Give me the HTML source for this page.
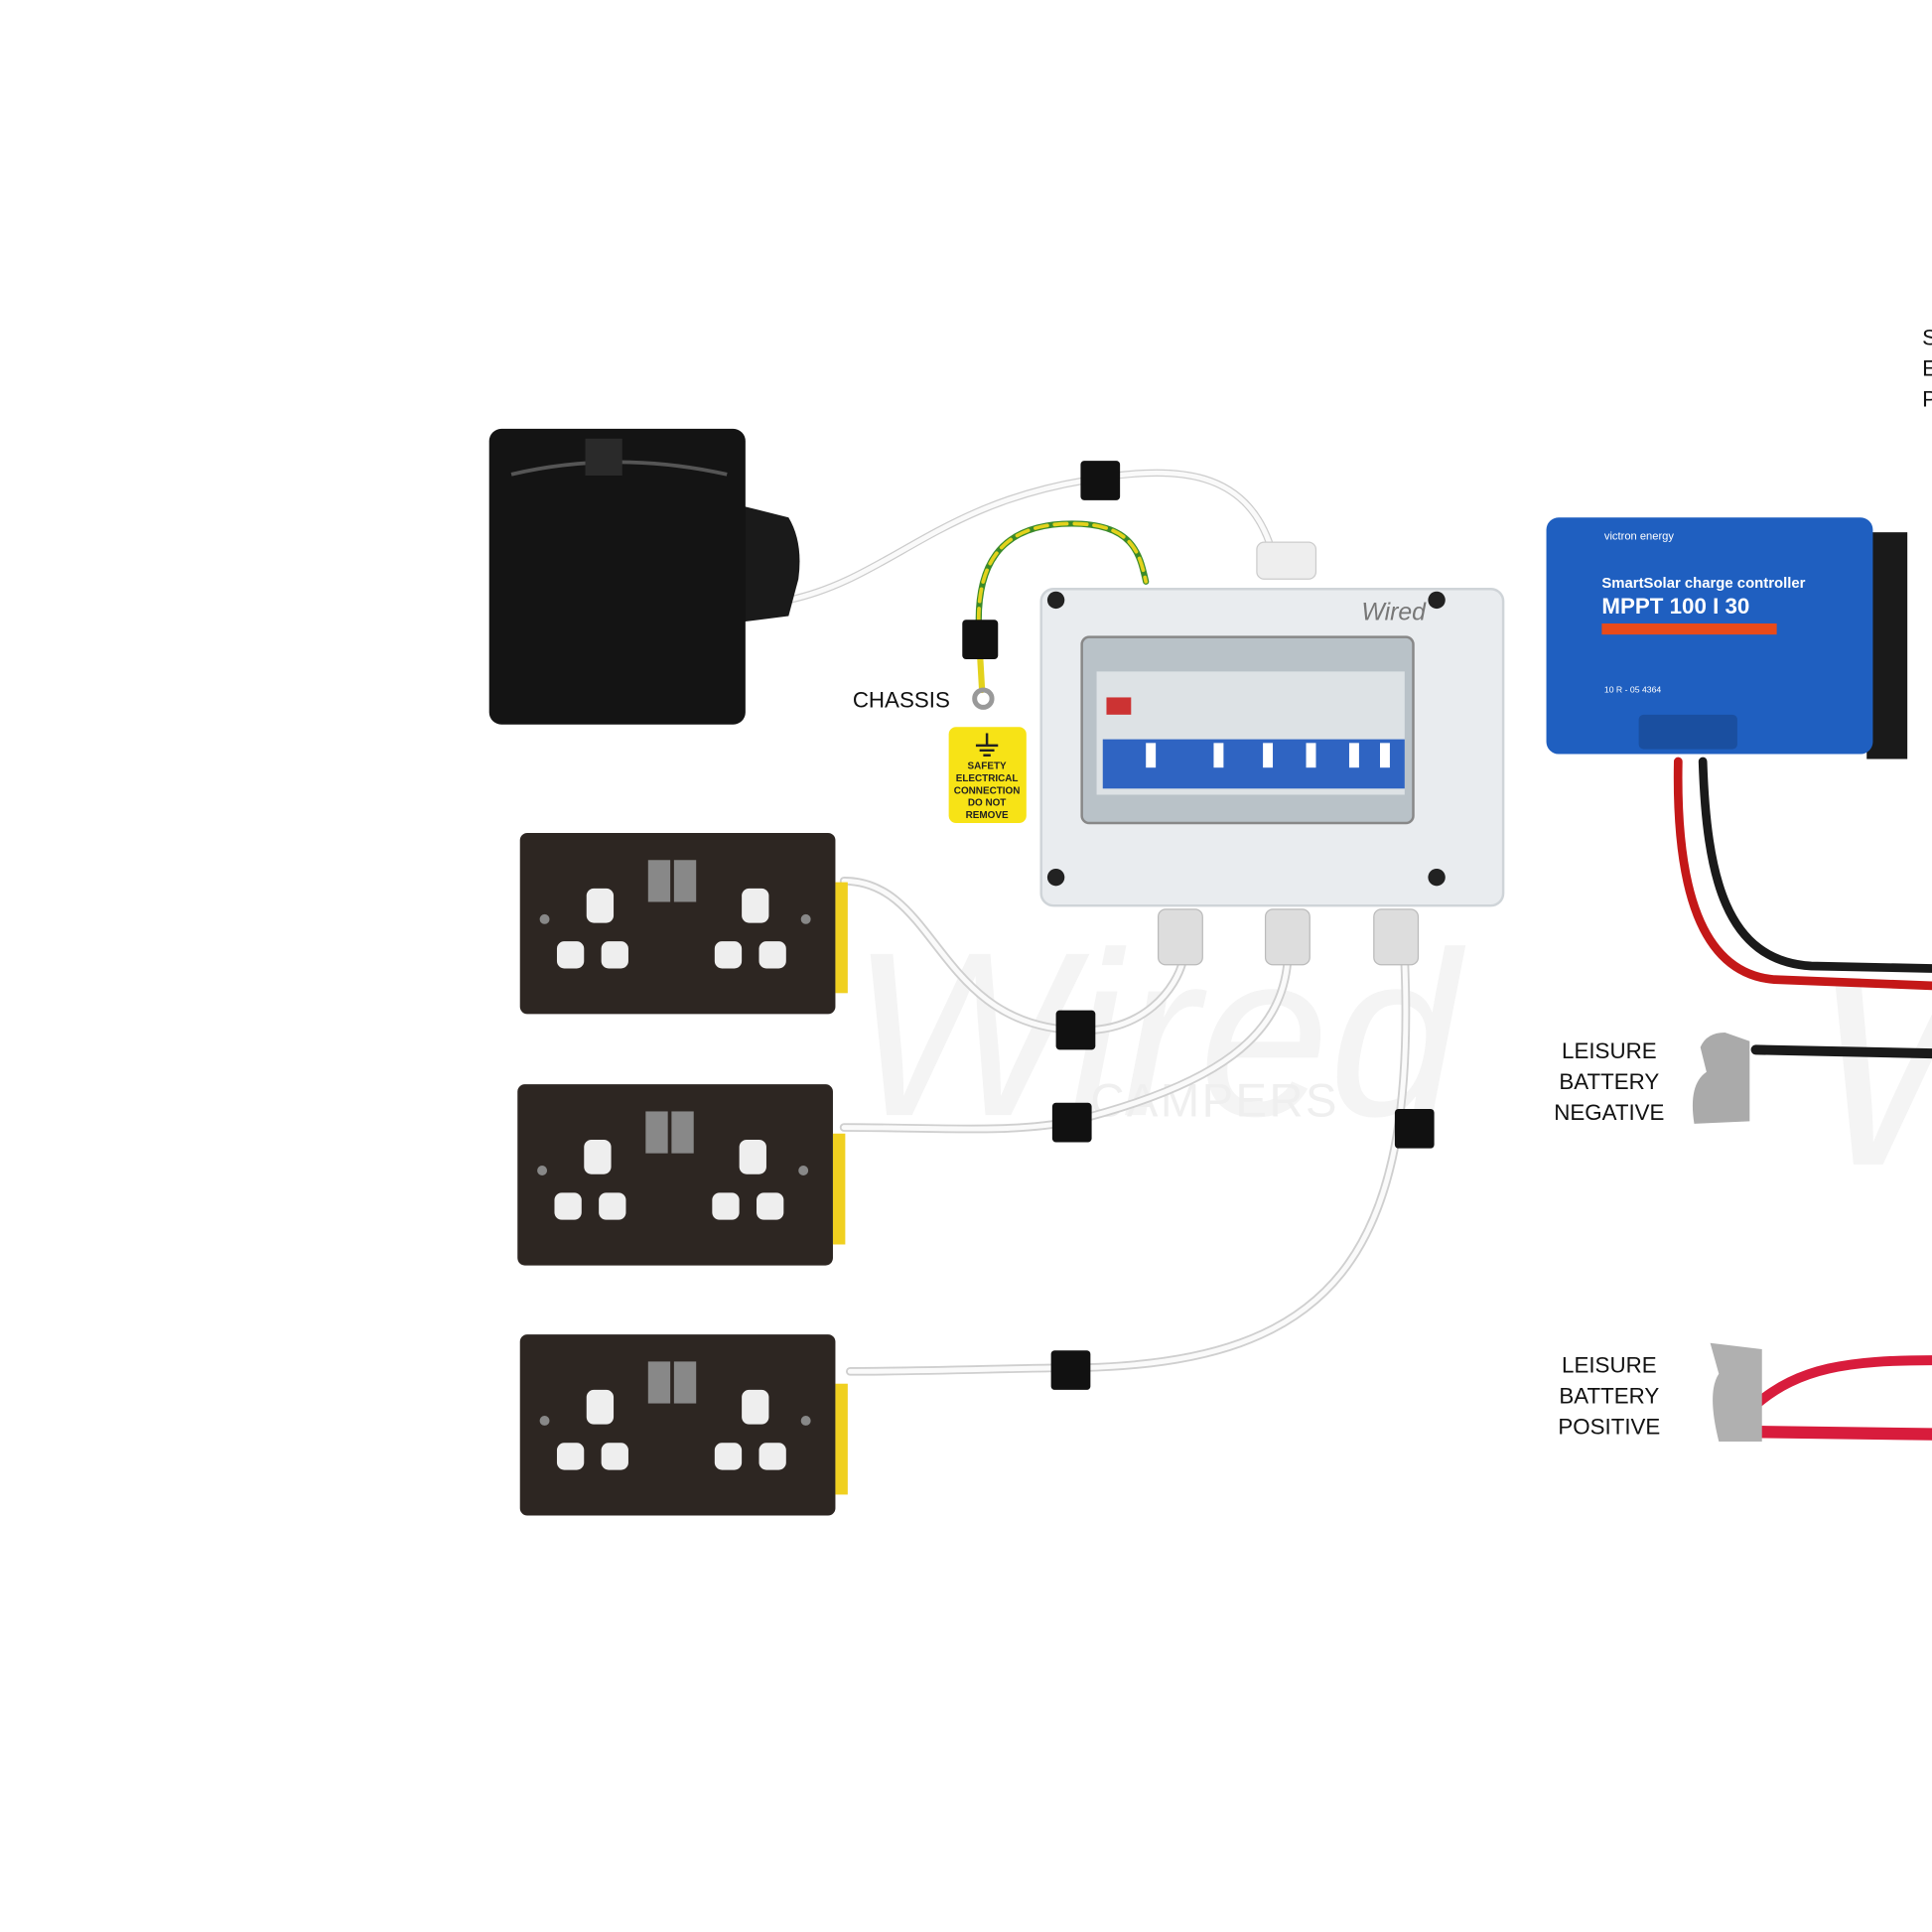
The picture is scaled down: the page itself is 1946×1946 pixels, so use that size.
<!DOCTYPE html>
<html><head><meta charset="utf-8"><style>
html,body{margin:0;padding:0;background:#fff;width:1946px;height:1946px;overflow:hidden}
svg{display:block}
text{font-family:"Liberation Sans",sans-serif}
</style></head><body>
<svg width="1946" height="1946" viewBox="0 0 1568 1568" xmlns="http://www.w3.org/2000/svg">
<defs>
<g id="s">
<rect x="0" y="0" width="256" height="147" rx="6" fill="#2d2622"/>
<rect x="256" y="40" width="10" height="90" fill="#f0d020"/>
<rect x="104" y="22" width="18" height="34" fill="#888"/><rect x="125" y="22" width="18" height="34" fill="#888"/>
<rect x="54" y="45" width="22" height="28" rx="6" fill="#eee"/><rect x="180" y="45" width="22" height="28" rx="6" fill="#eee"/>
<rect x="30" y="88" width="22" height="22" rx="6" fill="#eee"/><rect x="66" y="88" width="22" height="22" rx="6" fill="#eee"/>
<rect x="158" y="88" width="22" height="22" rx="6" fill="#eee"/><rect x="194" y="88" width="22" height="22" rx="6" fill="#eee"/>
<circle cx="20" cy="70" r="4" fill="#888"/><circle cx="232" cy="70" r="4" fill="#888"/>
</g>
</defs>
<rect width="1568" height="1568" fill="#fff"/>
<!-- watermark -->
<text x="690" y="905" font-family="Liberation Serif" font-style="italic" font-size="190" fill="#f4f4f4">Wired</text>
<text x="885" y="906" font-size="38" fill="#efefef" letter-spacing="2">CAMPERS</text>
<text x="1470" y="945" font-family="Liberation Serif" font-style="italic" font-size="220" fill="#f4f4f4">W</text>
<!-- cables -->
<g fill="none" stroke-linecap="round">
<path d="M640 487 C720 470 760 410 880 390 C960 375 1010 385 1030 440" stroke="#ccc" stroke-width="6"/>
<path d="M640 487 C720 470 760 410 880 390 C960 375 1010 385 1030 440" stroke="#fafafa" stroke-width="4"/>
<path d="M795 520 C790 460 810 425 870 425 C920 425 925 450 930 472" stroke="#3a8a2a" stroke-width="5"/>
<path d="M795 520 C790 460 810 425 870 425 C920 425 925 450 930 472" stroke="#e3d21c" stroke-width="3" stroke-dasharray="10 6"/>
<path d="M795 525 L797 560" stroke="#e3d21c" stroke-width="5"/>
<g stroke="#cfcfcf" stroke-width="7">
<path d="M685 715 C760 715 760 830 870 836 C930 840 955 800 960 780"/>
<path d="M685 915 C760 915 820 920 870 910 C990 880 1040 840 1045 780"/>
<path d="M690 1113 C760 1113 830 1110 880 1110 C1080 1105 1150 1020 1140 780"/>
</g>
<g stroke="#fafafa" stroke-width="4">
<path d="M685 715 C760 715 760 830 870 836 C930 840 955 800 960 780"/>
<path d="M685 915 C760 915 820 920 870 910 C990 880 1040 840 1045 780"/>
<path d="M690 1113 C760 1113 830 1110 880 1110 C1080 1105 1150 1020 1140 780"/>
</g>
<path d="M1362 618 C1360 720 1380 790 1440 795 L1568 800" stroke="#c41818" stroke-width="7"/>
<path d="M1382 618 C1385 710 1400 780 1470 784 L1568 786" stroke="#1a1a1a" stroke-width="7"/>
<path d="M1425 852 L1568 855" stroke="#1a1a1a" stroke-width="8"/>
<path d="M1425 1140 C1460 1110 1500 1104 1568 1104" stroke="#d81c3c" stroke-width="8"/>
<path d="M1420 1162 L1568 1164" stroke="#d81c3c" stroke-width="10"/>
</g>
<!-- cable clips -->
<g fill="#111">
<rect x="877" y="374" width="32" height="32" rx="3"/>
<rect x="857" y="820" width="32" height="32" rx="3"/>
<rect x="854" y="895" width="32" height="32" rx="3"/>
<rect x="853" y="1096" width="32" height="32" rx="3"/>
<rect x="1132" y="900" width="32" height="32" rx="3"/>
<rect x="781" y="503" width="29" height="32" rx="3"/>
</g>
<circle cx="798" cy="567" r="7" fill="none" stroke="#999" stroke-width="4"/>
<!-- hookup box -->
<path d="M600 410 L640 420 Q652 440 648 470 L640 500 L600 505 Z" fill="#1a1a1a"/>
<rect x="397" y="348" width="208" height="240" rx="10" fill="#141414"/>
<path d="M415 385 Q500 365 590 385" stroke="#555" stroke-width="3" fill="none"/>
<rect x="475" y="356" width="30" height="30" fill="#2a2a2a"/>
<!-- consumer unit -->
<rect x="845" y="478" width="375" height="257" rx="10" fill="#e9ecef" stroke="#cfd4d8" stroke-width="2"/>
<rect x="1020" y="440" width="48" height="30" rx="6" fill="#eee" stroke="#ccc"/>
<rect x="878" y="517" width="269" height="151" rx="6" fill="#b9c2c8" stroke="#888" stroke-width="2"/>
<rect x="890" y="545" width="250" height="100" fill="#dde2e5"/>
<rect x="895" y="600" width="245" height="40" fill="#2f64c2"/>
<rect x="898" y="566" width="20" height="14" fill="#c33"/>
<g fill="#fff"><rect x="930" y="603" width="8" height="20"/><rect x="985" y="603" width="8" height="20"/><rect x="1025" y="603" width="8" height="20"/><rect x="1060" y="603" width="8" height="20"/><rect x="1095" y="603" width="8" height="20"/><rect x="1120" y="603" width="8" height="20"/></g>
<text x="1105" y="503" font-family="Liberation Serif" font-style="italic" font-size="20" fill="#777">Wired</text>
<g fill="#222"><circle cx="857" cy="487" r="7"/><circle cx="1166" cy="487" r="7"/><circle cx="857" cy="712" r="7"/><circle cx="1166" cy="712" r="7"/></g>
<g fill="#ddd" stroke="#bbb"><rect x="940" y="738" width="36" height="45" rx="6"/><rect x="1027" y="738" width="36" height="45" rx="6"/><rect x="1115" y="738" width="36" height="45" rx="6"/></g>
<!-- safety label -->
<rect x="770" y="590" width="63" height="78" rx="6" fill="#f7e316"/>
<text font-size="8" font-weight="bold" fill="#222" text-anchor="middle"><tspan x="801" y="624">SAFETY</tspan><tspan x="801" y="634">ELECTRICAL</tspan><tspan x="801" y="644">CONNECTION</tspan><tspan x="801" y="654">DO NOT</tspan><tspan x="801" y="664">REMOVE</tspan></text>
<path d="M801 595 V605 M792 605 H810 M795 609 H807 M798 613 H804" stroke="#222" stroke-width="2"/>
<!-- sockets -->
<use href="#s" x="422" y="676"/>
<use href="#s" x="420" y="880"/>
<use href="#s" x="422" y="1083"/>
<!-- victron -->
<rect x="1515" y="432" width="33" height="184" fill="#1a1a1a"/>
<rect x="1255" y="420" width="265" height="192" rx="10" fill="#1f5fc0"/>
<text x="1302" y="438" font-size="9" fill="#fff">victron energy</text>
<text x="1300" y="477" font-size="12" font-weight="bold" fill="#fff">SmartSolar charge controller</text>
<text x="1300" y="498" font-size="18" font-weight="bold" fill="#fff">MPPT 100 I 30</text>
<rect x="1300" y="506" width="142" height="9" fill="#e84a1a"/>
<text x="1302" y="562" font-size="7" fill="#fff">10 R - 05 4364</text>
<rect x="1330" y="580" width="80" height="28" rx="4" fill="#1a4fa0"/>
<!-- terminals -->
<path d="M1380 850 Q1385 838 1400 838 L1420 845 L1420 910 L1375 912 Q1370 880 1385 870 Z" fill="#aaa"/>
<path d="M1388 1090 L1430 1095 L1430 1170 L1395 1170 Q1385 1130 1395 1115 Z" fill="#b0b0b0"/>
<!-- labels -->
<text x="692" y="574" font-size="18" fill="#111">CHASSIS</text>
<g font-size="18" fill="#111" text-anchor="middle">
<text x="1306" y="859">LEISURE</text><text x="1306" y="884">BATTERY</text><text x="1306" y="909">NEGATIVE</text>
<text x="1306" y="1114">LEISURE</text><text x="1306" y="1139">BATTERY</text><text x="1306" y="1164">POSITIVE</text>
<text x="1566" y="280">S</text><text x="1566" y="305">E</text><text x="1566" y="330">P</text>
</g>
</svg>
</body></html>
